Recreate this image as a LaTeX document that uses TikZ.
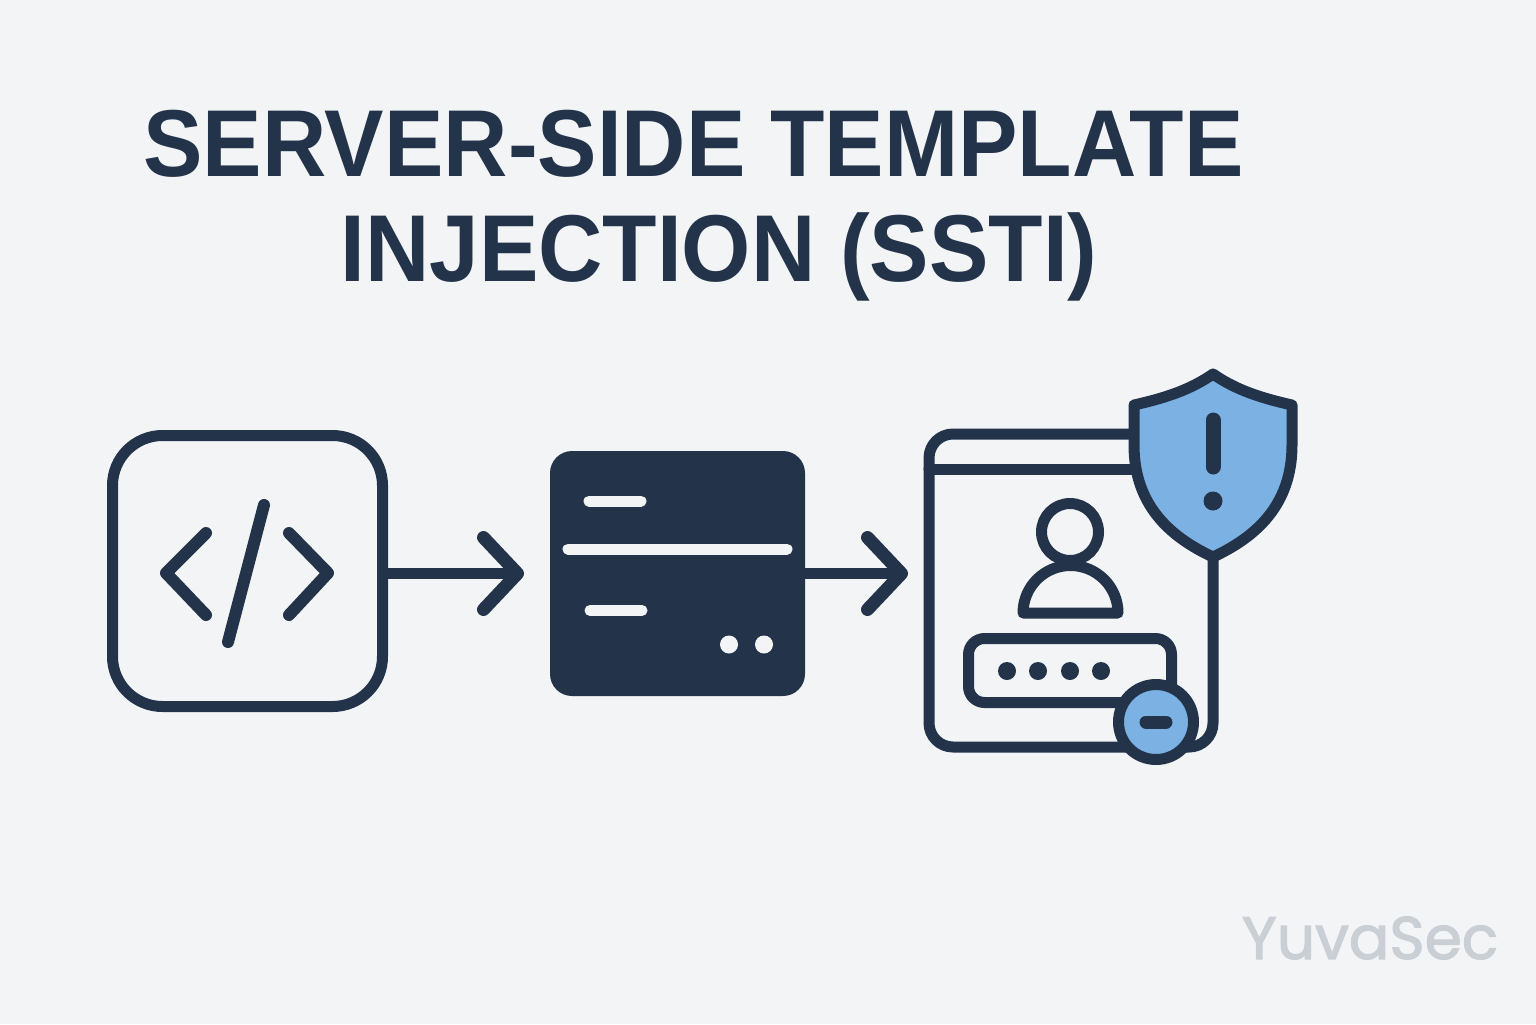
\documentclass[tikz,border=0pt]{standalone}
\usepackage{fontspec}
\setmainfont[FakeStretch=0.9375]{Liberation Sans}
\newfontfamily\markfont[FakeBold=2]{Poppins}
\usetikzlibrary{arrows.meta,calc}
\definecolor{ink}{HTML}{23344A}
\definecolor{sky}{HTML}{7CB2E3}
\definecolor{paper}{HTML}{F3F4F6}
\definecolor{mark}{HTML}{C9CFD5}
\tikzset{
	icon line/.style={draw=ink,line width=5.5pt,line cap=round,line join=round},
	icon box/.style={icon line,inner sep=0pt,outer sep=0pt},
	flow/.style={icon line,-{Straight Barb[length=17pt,width=36pt,line width=6.5pt,round]}},
	title line/.style={text=ink,inner sep=0pt,anchor=base,font=\fontsize{47.5}{48}\bfseries\selectfont},
	slot/.style={line width=5.5pt,draw=paper,line cap=round}
}
\begin{document}
\begin{tikzpicture}[x=.5pt,y=-.5pt]
	\useasboundingbox[fill=paper] (0,0) rectangle (1536,1024);
	\node[title line] (title1) at (693.5,176) {SERVER-SIDE TEMPLATE};
	\node[title line] (title2) at (719,281) {INJECTION (SSTI)};
	% source box
	\node[icon box,rounded corners=25pt,minimum width=135pt,minimum height=135.5pt] (codebox) at (247.5,571) {};
	\draw[icon line,line width=6pt] (206,533) -- (166,573) -- (206,615);
	\draw[icon line,line width=6pt] (289,533) -- (328,573) -- (289,615);
	\draw[icon line,line width=6pt] (264,505) -- (228,642);
	% server
	\node[fill=ink,inner sep=0pt,outer sep=0pt,rounded corners=11pt,minimum width=127.5pt,minimum height=122.5pt] (serverbox) at (677.5,573.5) {};
	\draw[slot] (589,501) -- (641,501);
	\draw[slot] (568,549) -- (787,549);
	\draw[slot] (590,610.5) -- (642,610.5);
	\foreach \x in {729,764} \fill[paper] (\x,644.5) circle (4.5pt);
	% page
	\node[icon box,rounded corners=12pt,minimum width=142pt,minimum height=156.5pt] (pagebox) at (1071,590.5) {};
	\draw[icon line] (pagebox.west |- 0,469) -- (pagebox.east |- 0,469);
	\draw[icon line] (1070,532) circle (14.25pt);
	\draw[icon line,fill=paper] (1023,613) arc[start angle=180,end angle=0,radius=23.75pt] -- cycle;
	\node[icon box,rounded corners=8pt,minimum width=101.5pt,minimum height=32pt] (fieldbox) at (1070,670.5) {};
	\foreach \x in {1007,1038,1070,1101} \fill[ink] (\x,671) circle (4.5pt);
	% warning shield
	\draw[icon line,fill=sky] (1213,374) .. controls (1190,390) and (1165,398) .. (1134,405)
		-- (1134,445) .. controls (1134,505) and (1170,537) .. (1213,557)
		.. controls (1256,537) and (1292,505) .. (1292,445)
		-- (1292,405) .. controls (1261,398) and (1236,390) .. (1213,374) -- cycle;
	\draw[icon line,line width=7.5pt] (1213,420) -- (1213,467);
	\fill[ink] (1213,501) circle (4.75pt);
	% badge
	\node[icon box,circle,fill=sky,minimum size=37.5pt] (badge) at (1156,722) {};
	\draw[icon line,line width=6.5pt] (1146,722) -- (1166,722);
	% arrows
	\draw[flow,shorten >=13pt] (codebox.east |- serverbox) -- (serverbox);
	\draw[flow,shorten >=10.5pt] (serverbox.east) -- (serverbox.east -| pagebox.west);
	\node[text=mark,inner sep=0pt,font=\markfont\fontsize{30}{30}\selectfont] (brand) at (1370,938) {YuvaSec};
\end{tikzpicture}
\end{document}
